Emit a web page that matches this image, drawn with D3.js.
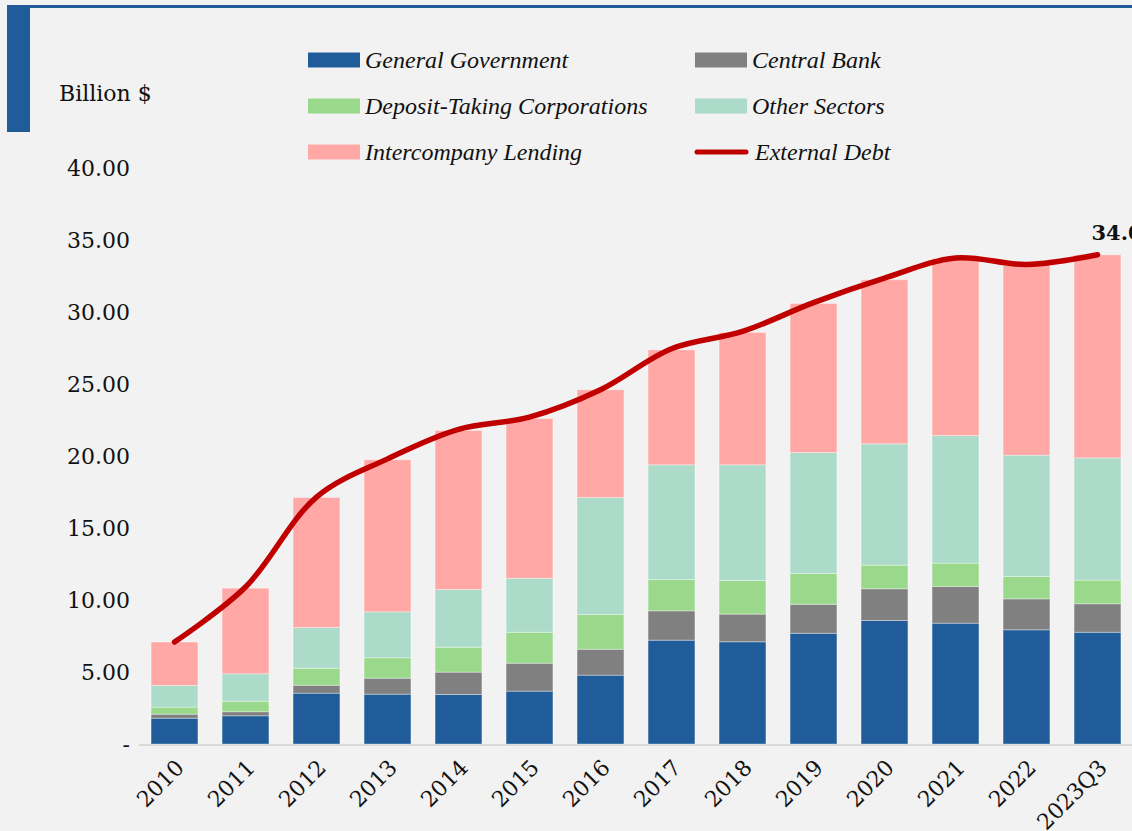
<!DOCTYPE html>
<meta charset="utf-8">

<body>
  <style>
    body {
      margin: 0;
      background: #f2f2f2;
    }

    svg {
      display: block;
    }
  </style>
  <div id="chart"></div>
  <script src="https://d3js.org/d3.v7.min.js"></script>
  <script>
    // categories and series (billion $)
    var years = ["2010", "2011", "2012", "2013", "2014", "2015", "2016",
      "2017", "2018", "2019", "2020", "2021", "2022", "2023Q3"];

    var generalGovernment = [1.79, 1.96, 3.53, 3.46, 3.44, 3.67, 4.78, 7.21, 7.10, 7.69, 8.58, 8.39, 7.93, 7.76];
    var centralBank = [0.28, 0.28, 0.55, 1.11, 1.55, 1.94, 1.80, 2.04, 1.92, 2.01, 2.20, 2.55, 2.15, 1.98];
    var depositTaking = [0.49, 0.73, 1.18, 1.42, 1.73, 2.15, 2.41, 2.17, 2.33, 2.14, 1.64, 1.62, 1.55, 1.64];
    var otherSectors = [1.51, 1.91, 2.83, 3.19, 4.01, 3.75, 8.13, 7.97, 8.04, 8.40, 8.43, 8.86, 8.43, 8.49];
    var intercompany = [3.01, 5.94, 9.03, 10.56, 11.04, 11.09, 7.48, 7.98, 9.19, 10.35, 11.39, 12.28, 13.18, 14.10];
    var externalDebt = [7.08, 10.90, 17.15, 19.80, 21.85, 22.70, 24.60, 27.45, 28.65, 30.65, 32.35, 33.75, 33.30, 33.98];

    var yTicks = [0, 5, 10, 15, 20, 25, 30, 35, 40];
    var lastLabel = "34.04";

    var seriesNames = ["General Government", "Central Bank", "Deposit-Taking Corporations",
      "Other Sectors", "Intercompany Lending"];
    var seriesColors = ["#1f5c99", "#808080", "#9ad98c", "#addbc9", "#ffa8a6"];
    var lineColor = "#c00000";

    var width = 1132,
      height = 831;

    // table for the stack layout
    var table = years.map(function(y, i) {
      return {
        year: y,
        "General Government": generalGovernment[i],
        "Central Bank": centralBank[i],
        "Deposit-Taking Corporations": depositTaking[i],
        "Other Sectors": otherSectors[i],
        "Intercompany Lending": intercompany[i]
      };
    });

    var stacked = d3.stack().keys(seriesNames)(table);

    var xScale = d3.scaleBand()
      .domain(years)
      .range([139, 1133])
      .paddingInner(0.34)
      .paddingOuter(0.17);

    var yScale = d3.scaleLinear()
      .domain([0, 40])
      .range([744, 168]);

    var svg = d3.select("#chart")
      .append("svg")
      .attr("width", width)
      .attr("height", height);

    svg.append("rect")
      .attr("width", width)
      .attr("height", height)
      .attr("fill", "#f2f2f2");

    // frame decoration
    svg.append("rect")
      .attr("x", 7).attr("y", 5)
      .attr("width", width - 7).attr("height", 3)
      .attr("fill", "#1f5c99");
    svg.append("rect")
      .attr("x", 7).attr("y", 5)
      .attr("width", 23).attr("height", 127)
      .attr("fill", "#1f5c99");

    svg.append("text")
      .attr("x", 59)
      .attr("y", 101)
      .style("font-family", "DejaVu Serif")
      .style("font-size", "22px")
      .attr("fill", "#111")
      .text("Billion $");

    // y axis labels only
    var yAxis = d3.axisLeft(yScale)
      .tickValues(yTicks)
      .tickSize(0)
      .tickPadding(0)
      .tickFormat(function(d) {
        return d === 0 ? "-" : d3.format(".2f")(d);
      });

    var yg = svg.append("g")
      .attr("transform", "translate(130,0)")
      .call(yAxis);
    yg.select(".domain").remove();
    yg.selectAll("text")
      .style("font-family", "DejaVu Serif")
      .style("font-size", "22px")
      .attr("fill", "#111");

    // baseline
    svg.append("line")
      .attr("x1", 139).attr("x2", width)
      .attr("y1", yScale(0) + 1).attr("y2", yScale(0) + 1)
      .attr("stroke", "#d9d9d9")
      .attr("stroke-width", 2);

    // stacked bars
    var layers = svg.selectAll(".layer")
      .data(stacked)
      .enter()
      .append("g")
      .attr("class", "layer")
      .attr("fill", function(d, i) {
        return seriesColors[i];
      });

    layers.selectAll("rect")
      .data(function(d) {
        return d;
      })
      .enter()
      .append("rect")
      .attr("x", function(d) {
        return xScale(d.data.year);
      })
      .attr("y", function(d) {
        return yScale(d[1]);
      })
      .attr("width", xScale.bandwidth())
      .attr("height", function(d) {
        return yScale(d[0]) - yScale(d[1]);
      })
      .attr("stroke", "#ffffff")
      .attr("stroke-opacity", 0.35)
      .attr("stroke-width", 1);

    // x axis labels
    var xAxis = d3.axisBottom(xScale).tickSize(0).tickPadding(0);
    var xg = svg.append("g")
      .attr("transform", "translate(0," + yScale(0) + ")")
      .call(xAxis);
    xg.select(".domain").remove();
    xg.selectAll("text")
      .style("font-family", "DejaVu Serif")
      .style("font-size", "22px")
      .attr("fill", "#111")
      .attr("text-anchor", "end")
      .attr("dy", null)
      .attr("y", 0)
      .attr("transform", "translate(11,25) rotate(-45)");

    // external debt line
    var line = d3.line()
      .x(function(d, i) {
        return xScale(years[i]) + xScale.bandwidth() / 2;
      })
      .y(function(d) {
        return yScale(d);
      })
      .curve(d3.curveCatmullRom.alpha(0.5));

    svg.append("path")
      .datum(externalDebt)
      .attr("d", line)
      .attr("fill", "none")
      .attr("stroke", lineColor)
      .attr("stroke-width", 5.5)
      .attr("stroke-linecap", "round");

    var last = externalDebt.length - 1;
    svg.append("text")
      .attr("x", xScale(years[last]) + xScale.bandwidth() / 2 - 6)
      .attr("y", yScale(externalDebt[last]) - 15)
      .style("font-family", "DejaVu Serif")
      .style("font-size", "21px")
      .style("font-weight", "bold")
      .attr("fill", "#111")
      .text(lastLabel);

    // legend
    var legendItems = seriesNames.map(function(n, i) {
      return { name: n, color: seriesColors[i], type: "rect" };
    });
    legendItems.push({ name: "External Debt", color: lineColor, type: "line" });

    var legendPos = [
      [308, 60], [695, 60],
      [308, 106], [695, 106],
      [308, 152], [695, 152]
    ];

    var legend = svg.selectAll(".legend")
      .data(legendItems)
      .enter()
      .append("g")
      .attr("class", "legend")
      .attr("transform", function(d, i) {
        var p = legendPos[i];
        return "translate(" + p[0] + "," + p[1] + ")";
      });

    legend.filter(function(d) { return d.type === "rect"; })
      .append("rect")
      .attr("x", 0).attr("y", -7.5)
      .attr("width", 52).attr("height", 15)
      .attr("fill", function(d) { return d.color; });

    legend.filter(function(d) { return d.type === "line"; })
      .append("line")
      .attr("x1", 2).attr("x2", 51)
      .attr("y1", 0).attr("y2", 0)
      .attr("stroke", function(d) { return d.color; })
      .attr("stroke-width", 5)
      .attr("stroke-linecap", "round");

    legend.append("text")
      .attr("x", function(d) { return d.type === "line" ? 60 : 57; })
      .attr("y", 0)
      .attr("dy", "0.33em")
      .style("font-family", "Liberation Serif")
      .style("font-size", "24px")
      .style("font-style", "italic")
      .attr("fill", "#111")
      .text(function(d) { return d.name; });
  </script>
</body>
